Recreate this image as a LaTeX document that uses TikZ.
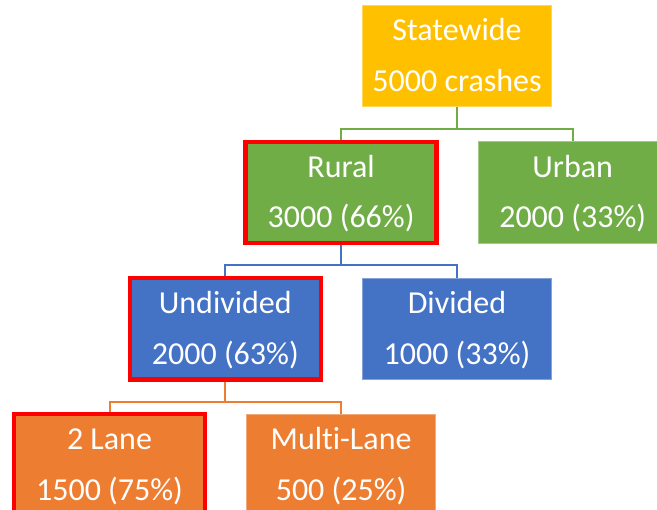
\documentclass[tikz,border=0pt]{standalone}
\usepackage{fontspec}
\setmainfont{Carlito}[Ligatures=NoCommon]
\definecolor{gold}{HTML}{FFC000}
\definecolor{leafgreen}{HTML}{70AD47}
\definecolor{roadblue}{HTML}{4472C4}
\definecolor{laneorange}{HTML}{ED7D31}
\definecolor{pickred}{HTML}{FF0000}
\tikzset{
  box/.style={fill=#1, draw=#1!65!white, line width=0.6pt, text=white, align=center,
    minimum width=141.75pt, minimum height=70pt, inner sep=0pt,
    font=\fontsize{24}{38}\selectfont},
  picked/.style={draw=pickred, line width=3.2pt, minimum width=143.25pt, minimum height=71.6pt},
  link/.style={line width=1.5pt}
}
\begin{document}
\begin{tikzpicture}[x=0.75pt, y=-0.75pt]
        \useasboundingbox (0,0) rectangle (657,510);
        \node [box=gold] (statewide) at (457, 56) {Statewide\strut\\5000 crashes\strut};
        \node [box=leafgreen, picked] (rural) at (341.1, 192.5) {Rural\strut\\3000 (66\%)\strut};
        \node [box=leafgreen] (urban) at (572.7, 192.5) {Urban\strut\\2000 (33\%)\strut};
        \node [box=roadblue, picked] (undivided) at (225.3, 328.7) {Undivided\strut\\2000 (63\%)\strut};
        \node [box=roadblue] (divided) at (457, 328.7) {Divided\strut\\1000 (33\%)\strut};
        \node [box=laneorange, picked] (twolane) at (109.5, 465) {2 Lane\strut\\1500 (75\%)\strut};
        \node [box=laneorange] (multilane) at (341.1, 465) {Multi-Lane\strut\\500 (25\%)\strut};
        \draw [link, leafgreen] (statewide.south) -- ++(0, 22) -| (rural.north);
        \draw [link, leafgreen] (statewide.south) -- ++(0, 22) -| (urban.north);
        \draw [link, roadblue] (rural.south) -- ++(0, 20) -| (undivided.north);
        \draw [link, roadblue] (rural.south) -- ++(0, 20) -| (divided.north);
        \draw [link, laneorange] (undivided.south) -- ++(0, 20) -| (twolane.north);
        \draw [link, laneorange] (undivided.south) -- ++(0, 20) -| (multilane.north);
    \end{tikzpicture}
\end{document}
